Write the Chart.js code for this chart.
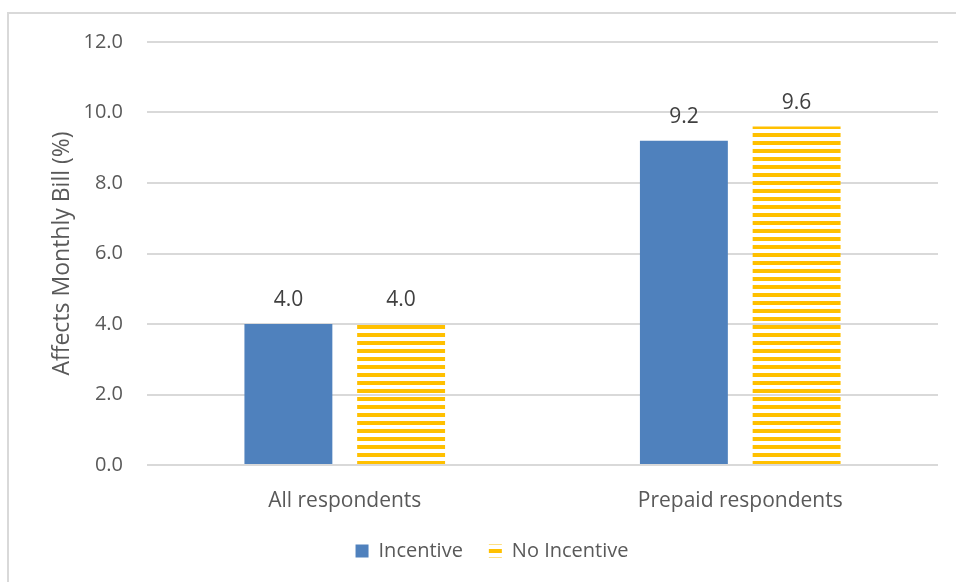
<!DOCTYPE html>
<html>
<head>
<meta charset="utf-8">
<script src="https://cdn.jsdelivr.net/npm/chart.js@4/dist/chart.umd.min.js"></script>
<style>
  body { margin: 0; background: #fff; }
  #wrap { position: relative; width: 956px; height: 582px; overflow: hidden; }
  #frame { position: absolute; left: 7px; top: 12px; width: 1000px; height: 700px;
           border-left: 2px solid #d9d9d9; border-top: 2px solid #d9d9d9; }
  #barChart { position: absolute; left: 0; top: 0; }
</style>
</head>
<body>
<div id="wrap">
  <div id="frame"></div>
  <canvas id="barChart" width="956" height="582"></canvas>
</div>
<script>
const categories = ["All respondents", "Prepaid respondents"];
const incentive = [4.0, 9.2];
const noIncentive = [4.0, 9.6];
const yTicks = [0, 2, 4, 6, 8, 10, 12];

const FONT = "'Open Sans', sans-serif";
const BLUE = '#4f81bd';
const GOLD = '#ffc000';

// horizontal gold stripes for the "No Incentive" bars
const makeStripes = () => {
  const c = document.createElement('canvas');
  c.width = 8;
  c.height = 8;
  const g = c.getContext('2d');
  g.fillStyle = GOLD;
  g.fillRect(0, 0, 8, 4);
  const pat = g.createPattern(c, 'repeat');
  pat.setTransform(new DOMMatrix().translate(0, 5));
  return pat;
};

// value labels above each bar
const valueLabels = {
  id: 'valueLabels',
  afterDatasetsDraw(chart) {
    const ctx = chart.ctx;
    ctx.save();
    ctx.font = "21px " + FONT;
    ctx.fillStyle = '#404040';
    ctx.textAlign = 'center';
    ctx.textBaseline = 'alphabetic';
    chart.data.datasets.forEach((ds, i) => {
      chart.getDatasetMeta(i).data.forEach((bar, j) => {
        ctx.fillText(ds.data[j].toFixed(1), bar.x, bar.y - 18);
      });
    });
    ctx.restore();
  }
};

const initChart = () => {
  const ctxB = document.getElementById("barChart");
  if (!ctxB) return;
  new Chart(ctxB, {
    type: 'bar',
    data: {
      labels: categories,
      datasets: [
        {
          label: "Incentive",
          data: incentive,
          backgroundColor: BLUE,
          borderWidth: 0
        },
        {
          label: "No Incentive",
          data: noIncentive,
          backgroundColor: makeStripes(),
          borderWidth: 0
        }
      ]
    },
    options: {
      responsive: false,
      animation: false,
      layout: { padding: { left: 46, right: 18, top: 42, bottom: 11 } },
      datasets: { bar: { categoryPercentage: 0.57, barPercentage: 0.78 } },
      plugins: {
        legend: {
          position: 'bottom',
          labels: {
            font: { family: FONT, size: 20 },
            color: '#595959',
            boxWidth: 13,
            boxHeight: 13,
            padding: 26
          }
        },
        tooltip: { enabled: false }
      },
      scales: {
        x: {
          grid: { display: false },
          border: { display: false },
          ticks: { font: { family: FONT, size: 21 }, color: '#595959', padding: 15 },
          afterFit: (s) => { s.height = 50; }
        },
        y: {
          min: 0,
          max: 12,
          afterBuildTicks: (s) => { s.ticks = yTicks.map(v => ({ value: v })); },
          afterFit: (s) => { s.width = 101; },
          grid: { color: '#d9d9d9', lineWidth: 2, drawTicks: false },
          border: { display: false },
          ticks: {
            font: { family: FONT, size: 20 },
            color: '#595959',
            padding: 24,
            callback: (v) => Number(v).toFixed(1)
          },
          title: {
            display: true,
            text: "Affects Monthly Bill (%)",
            font: { family: FONT, size: 23 },
            color: '#595959',
            padding: { top: 3, bottom: 0 }
          }
        }
      }
    },
    plugins: [valueLabels]
  });
};

initChart();
</script>
</body>
</html>
